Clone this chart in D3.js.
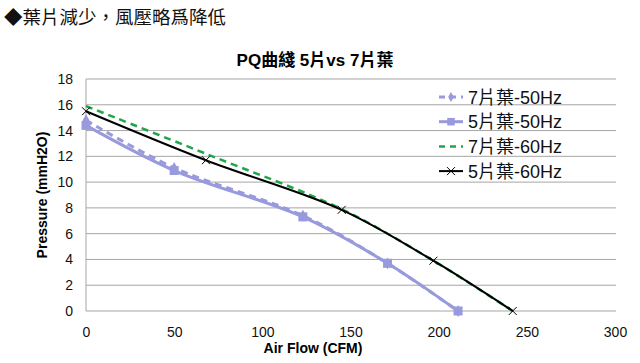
<html>
<head>
<script src="https://cdnjs.cloudflare.com/ajax/libs/d3/7.8.5/d3.min.js"></script>
<meta charset="UTF-8">
<style>
  body { margin: 0; background: #fff; }
  text { font-family: Arial, "Liberation Sans", "Noto Sans CJK TC", sans-serif; }
</style>
</head>
<body>
<div id="chart"></div>
<script>

// values
const seriesNames = ['7片葉-50Hz', '5片葉-50Hz', '7片葉-60Hz', '5片葉-60Hz'];
const flow7_50 = [0, 50, 123, 171, 211];
const pres7_50 = [14.8, 11.1, 7.4, 3.7, 0];
const flow5_50 = [0, 50, 123, 171, 211];
const pres5_50 = [14.4, 10.9, 7.3, 3.7, 0];
const flow7_60 = [0, 68, 145, 197, 242];
const pres7_60 = [15.9, 12.2, 7.9, 3.9, 0];
const flow5_60 = [0, 68, 145, 197, 242];
const pres5_60 = [15.5, 11.7, 7.85, 3.9, 0];
const xTicks = [0, 50, 100, 150, 200, 250, 300];
const yTicks = [0, 2, 4, 6, 8, 10, 12, 14, 16, 18];

const W = 640, H = 363;
const mLeft = 86, mRight = 615, mTop = 79, mBottom = 311;

const svg = d3.select('#chart').append('svg')
  .attr('width', W).attr('height', H);

const x = d3.scaleLinear().domain([0, 300]).range([mLeft, mRight]);
const y = d3.scaleLinear().domain([0, 18]).range([mBottom, mTop]);

// page heading
svg.append('text')
  .attr('x', 4).attr('y', 24)
  .style('font-size', '18.5px')
  .style('font-family', '"Noto Sans CJK TC", sans-serif')
  .attr('fill', '#111')
  .text('◆葉片減少，風壓略爲降低');

// chart title
svg.append('text')
  .attr('x', 315).attr('y', 66)
  .attr('text-anchor', 'middle')
  .style('font-size', '17px').style('font-weight', 'bold')
  .text('PQ曲綫 5片vs 7片葉');

// gridlines
svg.append('g').selectAll('line').data(yTicks).join('line')
  .attr('x1', mLeft).attr('x2', mRight + 1)
  .attr('y1', d => y(d)).attr('y2', d => y(d))
  .attr('stroke', '#a6a6a6').attr('stroke-width', 1);

svg.append('line')
  .attr('x1', mLeft).attr('x2', mLeft)
  .attr('y1', mTop).attr('y2', mBottom)
  .attr('stroke', '#a6a6a6');

// axes labels
const yAxis = svg.append('g')
  .attr('transform', `translate(${mLeft},0)`)
  .call(d3.axisLeft(y).tickValues(yTicks).tickSize(0).tickPadding(13));
yAxis.select('.domain').remove();
yAxis.selectAll('text').style('font-size', '14px').attr('fill', '#111')
  .style('font-family', 'Arial, "Liberation Sans", sans-serif');

const xAxis = svg.append('g')
  .attr('transform', `translate(0,${mBottom})`)
  .call(d3.axisBottom(x).tickValues(xTicks).tickSize(0).tickPadding(16));
xAxis.select('.domain').remove();
xAxis.selectAll('text').style('font-size', '14px').attr('fill', '#111')
  .style('font-family', 'Arial, "Liberation Sans", sans-serif');

svg.append('text')
  .attr('x', 313).attr('y', 353)
  .attr('text-anchor', 'middle')
  .style('font-size', '14px').style('font-weight', 'bold')
  .text('Air Flow (CFM)');

svg.append('text')
  .attr('transform', `translate(47,${(mTop + mBottom) / 2}) rotate(-90)`)
  .attr('text-anchor', 'middle')
  .style('font-size', '14px').style('font-weight', 'bold')
  .text('Pressure (mmH2O)');

const purple = '#9999dd', green = '#1fa64b', black = '#000';

const series = [
  { name: seriesNames[0], xs: flow7_50, ys: pres7_50, color: purple, width: 3, dash: '7,5', marker: 'diamond' },
  { name: seriesNames[1], xs: flow5_50, ys: pres5_50, color: purple, width: 3, dash: null, marker: 'square' },
  { name: seriesNames[2], xs: flow7_60, ys: pres7_60, color: green, width: 2.5, dash: '7,5', marker: null },
  { name: seriesNames[3], xs: flow5_60, ys: pres5_60, color: black, width: 2, dash: null, marker: 'cross' }
];

const line = d3.line()
  .x(d => x(d[0])).y(d => y(d[1]))
  .curve(d3.curveCatmullRom.alpha(0.5));

function drawMarker(g, type, cx, cy, color, scale) {
  if (type === 'diamond') {
    g.append('path').attr('d', d3.symbol(d3.symbolDiamond, 40 * scale)())
      .attr('transform', `translate(${cx},${cy})`).attr('fill', color);
  } else if (type === 'square') {
    const s = 9 * Math.sqrt(scale);
    g.append('rect').attr('x', cx - s / 2).attr('y', cy - s / 2)
      .attr('width', s).attr('height', s).attr('fill', color);
  } else if (type === 'cross') {
    const s = 4;
    g.append('path')
      .attr('d', `M${cx - s},${cy - s}L${cx + s},${cy + s}M${cx - s},${cy + s}L${cx + s},${cy - s}`)
      .attr('stroke', color).attr('stroke-width', 1);
  }
}

const plot = svg.append('g');
series.forEach(s => {
  const pts = s.xs.map((v, i) => [v, s.ys[i]]);
  plot.append('path')
    .attr('d', line(pts))
    .attr('fill', 'none')
    .attr('stroke', s.color)
    .attr('stroke-width', s.width)
    .attr('stroke-dasharray', s.dash);
  if (s.marker) {
    const mg = plot.append('g');
    pts.forEach(p => drawMarker(mg, s.marker, x(p[0]), y(p[1]), s.color, 1));
  }
});

// legend
const leg = svg.append('g');
series.forEach((s, i) => {
  const ly = 97 + i * 24.7;
  leg.append('line')
    .attr('x1', 439).attr('x2', 463).attr('y1', ly).attr('y2', ly)
    .attr('stroke', s.color).attr('stroke-width', s.width)
    .attr('stroke-dasharray', s.dash ? '6,5' : null);
  if (s.marker) drawMarker(leg, s.marker, 451, ly, s.color, 0.7);
  leg.append('text')
    .attr('x', 468).attr('y', ly + 6.5)
    .style('font-size', '18px')
    .attr('fill', '#111')
    .text(s.name);
});

</script>
</body>
</html>
